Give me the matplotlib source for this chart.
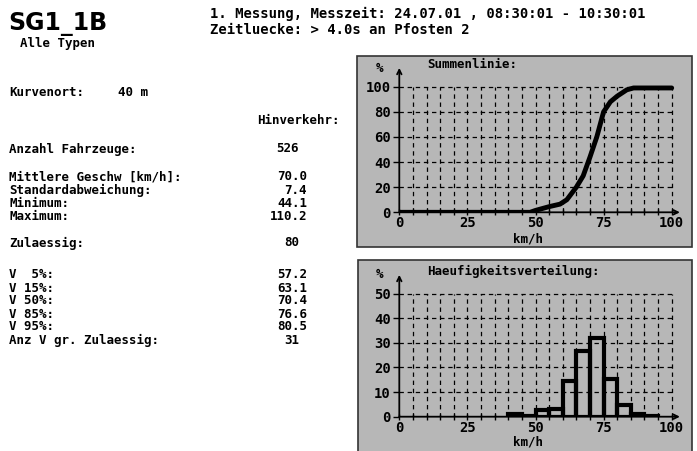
import matplotlib
matplotlib.use('Agg')
import matplotlib.pyplot as plt
from matplotlib.patches import Rectangle

# Data
cum_speed = [0, 48, 50, 55, 59, 61.5, 65, 67.5, 70, 72.5, 75, 77.5, 80, 83.5, 86, 100]
cum_pct = [0, 0, 1.5, 4.5, 6.5, 10, 20, 29, 44, 60, 80, 88, 92.5, 97.5, 99, 99]

hist_edges = [40, 45, 50, 55, 60, 65, 70, 75, 80, 85, 90]
hist_pct = [0.9, 0.4, 2.7, 3.3, 14.3, 26.7, 32, 15.3, 4.7, 0.9, 0.4]

stat_labels = ['Mittlere Geschw [km/h]:', 'Standardabweichung:', 'Minimum:', 'Maximum:']
stat_values = ['70.0', '7.4', '44.1', '110.2']
perc_labels = ['V  5%:', 'V 15%:', 'V 50%:', 'V 85%:', 'V 95%:']
perc_values = ['57.2', '63.1', '70.4', '76.6', '80.5']

W, H = 697, 451
FONT = 'DejaVu Sans Mono'
FS = 9
GRAY = '#b7b7b7'

fig = plt.figure(figsize=(W / 100, H / 100), dpi=100)
fig.patch.set_facecolor('white')


def px(x, y):
    return x / W, 1 - y / H


def put(x, y, s, ha='left', size=FS, family=FONT):
    fig.text(*px(x, y), s, ha=ha, va='center', fontsize=size,
             family=family, fontweight='bold', color='black')


# header
put(8, 24, 'SG1_1B', size=17, family='DejaVu Sans')
put(20, 44, 'Alle Typen')
put(210, 14, '1. Messung, Messzeit: 24.07.01 , 08:30:01 - 10:30:01', size=10)
put(210, 30, 'Zeitluecke: > 4.0s an Pfosten 2', size=10)

# left text block
put(9, 93, 'Kurvenort:')
put(118, 93, '40 m')
put(340, 121, 'Hinverkehr:', ha='right')
put(9, 149, 'Anzahl Fahrzeuge:')
put(299, 149, '526', ha='right')
for i, (lab, val) in enumerate(zip(stat_labels, stat_values)):
    y = 177 + i * 13
    put(9, y, lab)
    put(307, y, val, ha='right')
put(9, 243, 'Zulaessig:')
put(299, 243, '80', ha='right')
for i, (lab, val) in enumerate(zip(perc_labels, perc_values)):
    y = 275 + i * 13
    put(9, y, lab)
    put(307, y, val, ha='right')
put(9, 340, 'Anz V gr. Zulaessig:')
put(299, 340, '31', ha='right')

# gray panels
for (x0, y0, x1, y1) in [(357, 56, 692, 247), (358, 260, 692, 452)]:
    fig.add_artist(Rectangle(px(x0, y1), (x1 - x0) / W, (y1 - y0) / H,
                             transform=fig.transFigure, facecolor=GRAY,
                             edgecolor='#333333', linewidth=1.2, zorder=0))


def setup_axes(ax, ytop, ystep, yarrow):
    ax.set_xlim(0, 104)
    ax.set_ylim(0, yarrow + 1)
    ax.patch.set_alpha(0)
    for s in ax.spines.values():
        s.set_visible(False)
    # dashed grid
    ax.vlines(range(5, 101, 5), 0, ytop, colors='black', linestyles=(0, (3.5, 3)), linewidth=0.9)
    ax.hlines(range(ystep, ytop + 1, ystep), 0, 100, colors='black', linestyles=(0, (3.5, 3)), linewidth=0.9)
    # axes with arrows
    ax.annotate('', xy=(103, 0), xytext=(0, 0), annotation_clip=False,
                arrowprops=dict(arrowstyle='->', lw=1.3, color='black', shrinkA=0, shrinkB=0,
                                mutation_scale=8))
    ax.annotate('', xy=(0, yarrow), xytext=(0, 0), annotation_clip=False,
                arrowprops=dict(arrowstyle='->', lw=1.3, color='black', shrinkA=0, shrinkB=0,
                                mutation_scale=8))
    ax.set_xticks([0, 25, 50, 75, 100])
    ax.set_xticks(range(5, 101, 5), minor=True)
    ax.set_yticks(range(0, ytop + 1, ystep))
    ax.tick_params(axis='x', which='both', direction='inout', length=4, width=1, pad=1)
    ax.tick_params(axis='y', direction='out', length=4, width=1, pad=2)
    for lab in ax.get_xticklabels() + ax.get_yticklabels():
        lab.set_fontfamily(FONT)
        lab.set_fontweight('bold')
        lab.set_fontsize(10)


# Summenlinie
sx = 272.4 / 100
ax1 = fig.add_axes([399.3 / W, (H - 212.3) / H, 104 * sx / W, 116 * 1.256 / H])
setup_axes(ax1, 100, 20, 115)
ax1.plot(cum_speed, cum_pct, color='black', linewidth=3.5, solid_capstyle='round', zorder=3)
put(376, 69, '%')
put(427, 65, 'Summenlinie:')
put(528, 239, 'km/h', ha='center')

# Haeufigkeitsverteilung
ax2 = fig.add_axes([399.3 / W, (H - 416.7) / H, 104 * sx / W, 58 * 2.488 / H])
setup_axes(ax2, 50, 10, 57.6)
ax2.bar(hist_edges, hist_pct, width=5, align='edge', fill=False,
        edgecolor='black', linewidth=3, zorder=3)
put(376, 274, '%')
put(427, 271, 'Haeufigkeitsverteilung:')
put(528, 442, 'km/h', ha='center')

fig.savefig('out.png', dpi=100)
